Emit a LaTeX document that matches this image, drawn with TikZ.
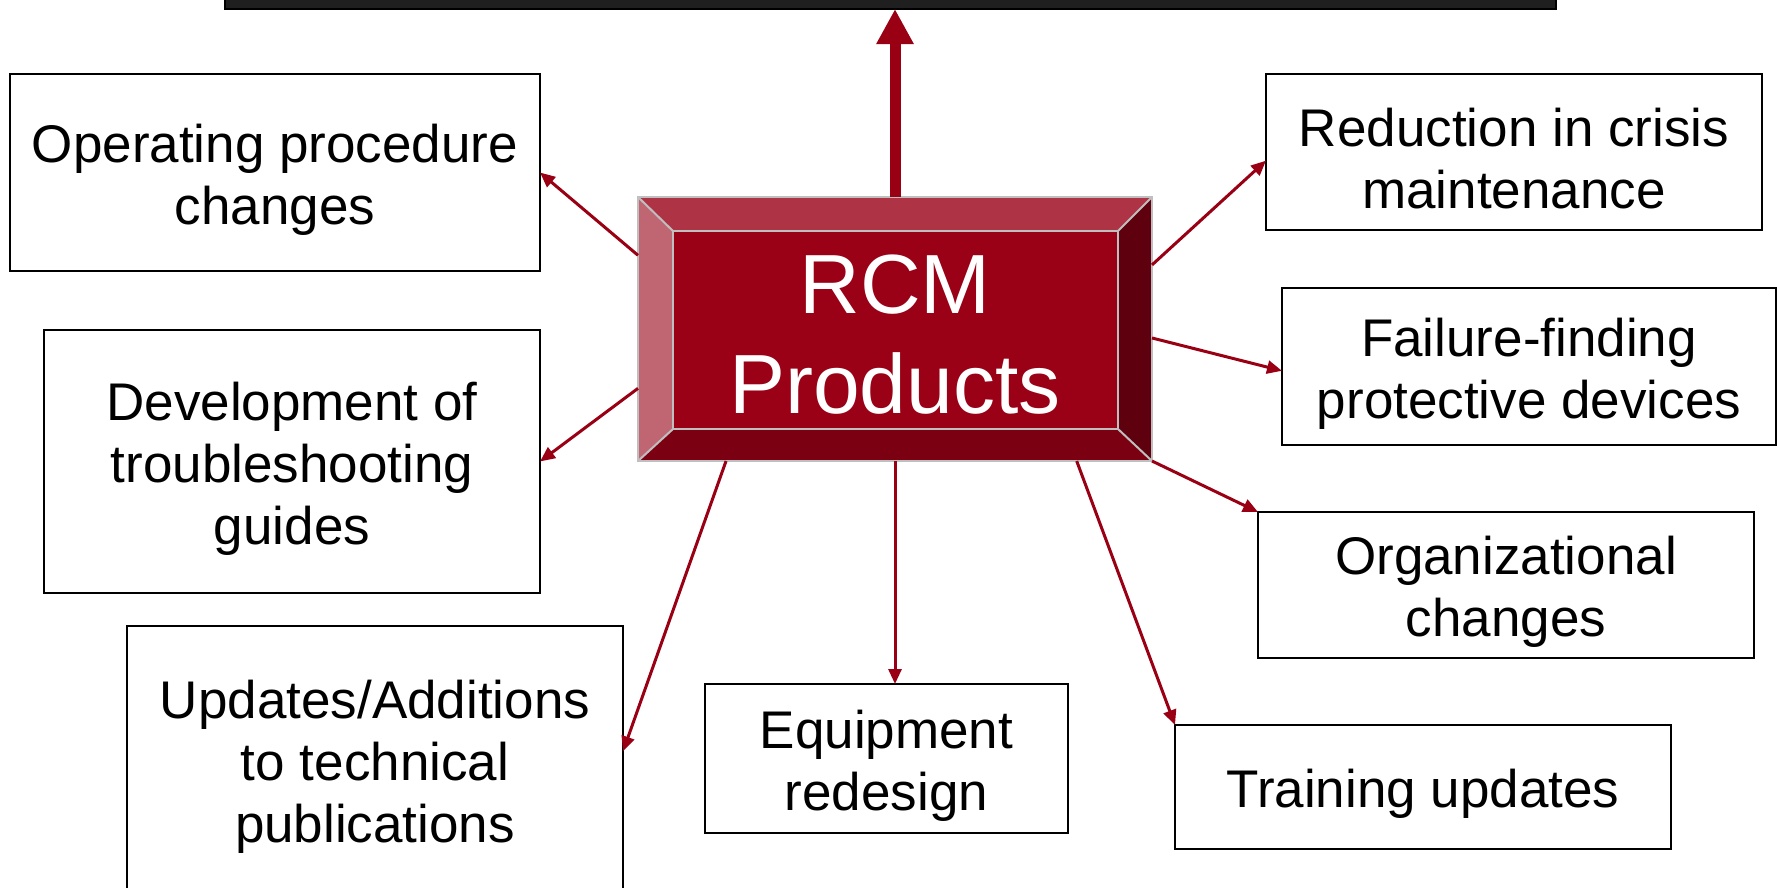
\documentclass[tikz,border=0pt]{standalone}
\usepackage{fontspec}
\setmainfont{Liberation Sans}
\usetikzlibrary{arrows.meta,backgrounds}
\definecolor{linkred}{RGB}{153,0,20}
\definecolor{facered}{RGB}{154,0,22}
\definecolor{topbevel}{RGB}{174,51,68}
\definecolor{leftbevel}{RGB}{192,102,114}
\definecolor{rightbevel}{RGB}{94,0,13}
\definecolor{botbevel}{RGB}{123,0,17}
\definecolor{bevelline}{RGB}{191,191,191}
\definecolor{bargray}{RGB}{31,31,31}
\newcommand{\hautligne}{\rule{0pt}{52pt}}
\begin{document}
\begin{tikzpicture}[x=1pt,y=-1pt]
\tikzset{prodbox/.style={draw, line width=2.5pt, fill=white, align=center, inner sep=0pt, outer sep=0pt, font=\fontsize{53}{62}\selectfont}}
\tikzset{lien/.style={draw=linkred, line width=3pt, -{Triangle[length=15pt,width=13pt]}}}
\useasboundingbox (0,0) rectangle (1777,887);
\clip (0,0) rectangle (1777,887);
\node[draw=black, fill=bargray, line width=2pt, minimum width=1331pt, minimum height=30pt, inner sep=0pt, outer sep=0pt] (Top) at (890.5,-6) {};
\node[text=white, align=center, inner sep=0pt, outer sep=0pt, minimum width=514pt, minimum height=264pt, font=\fontsize{84}{100}\selectfont] (RCM) at (895,329) {\rule{0pt}{70pt}RCM\\Products};
\begin{scope}[on background layer]
\coordinate (iNW) at ([shift={(35,34)}]RCM.north west);
\coordinate (iNE) at ([shift={(-34,34)}]RCM.north east);
\coordinate (iSE) at ([shift={(-34,-32)}]RCM.south east);
\coordinate (iSW) at ([shift={(35,-32)}]RCM.south west);
\fill[topbevel] (RCM.north west) -- (RCM.north east) -- (iNE) -- (iNW) -- cycle;
\fill[leftbevel] (RCM.north west) -- (iNW) -- (iSW) -- (RCM.south west) -- cycle;
\fill[rightbevel] (RCM.north east) -- (RCM.south east) -- (iSE) -- (iNE) -- cycle;
\fill[botbevel] (RCM.south west) -- (iSW) -- (iSE) -- (RCM.south east) -- cycle;
\fill[facered] (iNW) rectangle (iSE);
\draw[bevelline, line width=2pt] (RCM.north west) rectangle (RCM.south east);
\draw[bevelline, line width=2pt] (iNW) rectangle (iSE);
\draw[bevelline, line width=2pt] (RCM.north west) -- (iNW);
\draw[bevelline, line width=2pt] (RCM.north east) -- (iNE);
\draw[bevelline, line width=2pt] (RCM.south east) -- (iSE);
\draw[bevelline, line width=2pt] (RCM.south west) -- (iSW);
\end{scope}
\node[prodbox, minimum width=530pt, minimum height=197pt] (Op) at (275,172.5) {\hautligne Operating procedure\\changes};
\node[prodbox, minimum width=496pt, minimum height=263pt] (Dev) at (292,461.5) {\hautligne Development of\\troubleshooting\\guides};
\node[prodbox, minimum width=496pt, minimum height=268pt] (Upd) at (375,760) {\hautligne Updates/Additions\\to technical\\publications};
\node[prodbox, minimum width=363pt, minimum height=149pt] (Eqp) at (886.5,758.5) {\hautligne Equipment\\redesign};
\node[prodbox, minimum width=496pt, minimum height=124pt] (Trn) at (1423,787) {\hautligne Training updates};
\node[prodbox, minimum width=496pt, minimum height=146pt] (Org) at (1506,585) {\hautligne Organizational\\changes};
\node[prodbox, minimum width=494pt, minimum height=157pt] (Ff) at (1529,366.5) {\hautligne Failure-finding\\protective devices};
\node[prodbox, minimum width=496pt, minimum height=156pt] (Red) at (1514,152) {\hautligne Reduction in crisis\\maintenance};
\draw[linkred, line width=11pt, -{Triangle[length=35pt,width=35pt]}] (RCM.north) -- (RCM.north |- Top.south);
\draw[lien] (RCM.164) -- (Op.east);
\draw[lien] (RCM.193) -- (Dev.east);
\draw[lien] (RCM.218.7) -- (Upd.2.3);
\draw[lien] (RCM.south) -- (RCM.south |- Eqp.north);
\draw[lien] (RCM.324) -- (Trn.north west);
\draw[lien] (RCM.south east) -- (Org.north west);
\draw[lien] (RCM.358) -- (Ff.181);
\draw[lien] (RCM.14) -- (Red.182);
\end{tikzpicture}
\end{document}
